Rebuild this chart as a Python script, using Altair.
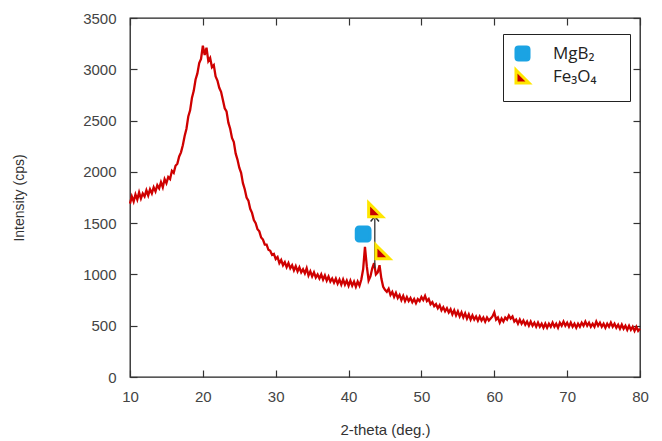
import altair as alt
import pandas as pd

# ---- data ----
THETA_START = 10.0
THETA_STEP = 0.25
intensity = [
    1690, 1760, 1710, 1780,  # 10
    1730, 1800, 1740, 1790,  # 11
    1760, 1820, 1770, 1830,  # 12
    1790, 1850, 1810, 1870,  # 13
    1840, 1900, 1850, 1930,  # 14
    1890, 1950, 1930, 2010,  # 15
    1990, 2060, 2080, 2150,  # 16
    2190, 2260, 2350, 2420,  # 17
    2540, 2600, 2720, 2790,  # 18
    2900, 2960, 3060, 3100,  # 19
    3230, 3140, 3210, 3080,  # 20
    3110, 3020, 3040, 2930,  # 21
    2890, 2820, 2780, 2700,  # 22
    2620, 2590, 2480, 2420,  # 23
    2330, 2290, 2180, 2120,  # 24
    2040, 1990, 1890, 1830,  # 25
    1750, 1720, 1640, 1600,  # 26
    1530, 1500, 1440, 1420,  # 27
    1360, 1340, 1290, 1290,  # 28
    1240, 1230, 1190, 1200,  # 29
    1150, 1170, 1110, 1140,  # 30
    1090, 1120, 1070, 1110,  # 31
    1060, 1090, 1040, 1080,  # 32
    1030, 1070, 1020, 1050,  # 33
    1010, 1060, 990, 1030,   # 34
    980, 1020, 970, 1000,    # 35
    960, 1000, 950, 990,     # 36
    940, 980, 930, 960,      # 37
    920, 960, 910, 950,      # 38
    900, 950, 900, 940,      # 39
    890, 940, 890, 930,      # 40
    880, 930, 890, 950,      # 41
    1050, 1270, 1080, 940,   # 42
    980, 1060, 1110, 1000,   # 43
    1020, 1090, 960, 880,    # 44
    850, 830, 860, 800,      # 45
    830, 780, 820, 770,      # 46
    800, 750, 790, 740,      # 47
    780, 740, 770, 730,      # 48
    760, 720, 760, 740,      # 49
    780, 750, 790, 740,      # 50
    760, 710, 730, 690,      # 51
    710, 670, 700, 650,      # 52
    680, 640, 670, 630,      # 53
    660, 610, 650, 600,      # 54
    640, 590, 630, 580,      # 55
    620, 570, 610, 560,      # 56
    600, 560, 590, 550,      # 57
    590, 550, 580, 540,      # 58
    580, 550, 570, 590,      # 59
    630, 560, 580, 530,      # 60
    570, 540, 580, 560,      # 61
    600, 570, 590, 540,      # 62
    560, 520, 560, 520,      # 63
    550, 510, 540, 500,      # 64
    540, 500, 530, 490,      # 65
    530, 490, 520, 480,      # 66
    520, 480, 520, 490,      # 67
    530, 490, 520, 480,      # 68
    530, 500, 540, 500,      # 69
    530, 490, 530, 490,      # 70
    520, 480, 520, 490,      # 71
    530, 500, 540, 500,      # 72
    530, 490, 520, 490,      # 73
    540, 500, 530, 490,      # 74
    520, 480, 520, 490,      # 75
    530, 490, 520, 480,      # 76
    510, 470, 510, 470,      # 77
    500, 460, 500, 460,      # 78
    490, 450, 490, 450,      # 79
    470,                     # 80
]
theta = [THETA_START + i * THETA_STEP for i in range(len(intensity))]

x_ticks = [10, 20, 30, 40, 50, 60, 70, 80]
y_ticks = [0, 500, 1000, 1500, 2000, 2500, 3000, 3500]

phases = ["MgB₂", "Fe₃O₄"]
marker_phase = ["MgB₂", "Fe₃O₄", "Fe₃O₄"]
marker_theta = [42.0, 43.7, 44.7]
marker_int = [1394, 1630, 1220]

arrow_theta = [43.6]
arrow_low = [1060]
arrow_high = [1545]

# ---- tables ----
df = pd.DataFrame({"theta": theta, "intensity": intensity})
mk = pd.DataFrame({"theta": marker_theta, "intensity": marker_int, "phase": marker_phase})
ar = pd.DataFrame({"theta": arrow_theta, "low": arrow_low, "high": arrow_high})

xscale = alt.Scale(domain=[10, 80], nice=False, zero=False)
yscale = alt.Scale(domain=[0, 3500], nice=False)

common_axis = dict(domain=False, grid=False, tickSize=7, offset=-7, tickColor="#333",
                   tickWidth=1.2, labelFont="Liberation Sans", labelFontSize=15,
                   labelColor="#444", titleFont="Liberation Sans", titleFontWeight="normal",
                   titleColor="#333", format="d")

line = alt.Chart(df).mark_line(color="#cf0000", strokeWidth=2.3).encode(
    x=alt.X("theta:Q", scale=xscale,
            axis=alt.Axis(values=x_ticks, labelPadding=12, title="2-theta (deg.)",
                          titleFontSize=15, titlePadding=18, labelFlush=False, **common_axis)),
    y=alt.Y("intensity:Q", scale=yscale,
            axis=alt.Axis(values=y_ticks, labelPadding=14, title="Intensity (cps)",
                          titleFontSize=14, titlePadding=56, labelFlush=False, **common_axis)),
)

frame_axis = dict(domain=False, grid=False, tickSize=7, offset=-7, tickColor="#333",
                  tickWidth=1.2, labels=False, title=None)

rule = alt.Chart(ar).mark_rule(color="#333", strokeWidth=1.3).encode(
    x=alt.X("theta:Q", scale=xscale, axis=alt.Axis(orient="top", values=x_ticks, **frame_axis)),
    y=alt.Y("low:Q", scale=yscale, axis=alt.Axis(orient="right", values=y_ticks, **frame_axis)),
    y2="high:Q",
)

head = alt.Chart(ar).mark_point(shape="M-1,0.7L0,-0.5L1,0.7", filled=False, color="#333",
                                strokeWidth=1.5, size=70, opacity=1).encode(
    x=alt.X("theta:Q", scale=xscale, axis=None),
    y=alt.Y("high:Q", scale=yscale, axis=None),
)

rounded_square = ("M-1,-0.6A0.4,0.4,0,0,1,-0.6,-1L0.6,-1A0.4,0.4,0,0,1,1,-0.6"
                  "L1,0.6A0.4,0.4,0,0,1,0.6,1L-0.6,1A0.4,0.4,0,0,1,-1,0.6Z")
corner_triangle = "M-1,-1L1,1L-1,1Z"

BLANK = "\u2800"  # blank spacer so the legend box is as wide as in the original
legend = alt.Legend(title=BLANK * 2, titleOrient="right", titleFontSize=12,
                    titleFont="DejaVu Sans", titlePadding=4,
                    orient="none", legendX=373, legendY=16)

markers = alt.Chart(mk).mark_point(opacity=1, strokeWidth=3, size=190).encode(
    x=alt.X("theta:Q", scale=xscale, axis=None),
    y=alt.Y("intensity:Q", scale=yscale, axis=None),
    fill=alt.Fill("phase:N", scale=alt.Scale(domain=phases, range=["#1ba3e3", "#c80000"]),
                  legend=legend),
    stroke=alt.Stroke("phase:N", scale=alt.Scale(domain=phases, range=["#1ba3e3", "#ffe600"]),
                      legend=legend),
    shape=alt.Shape("phase:N", scale=alt.Scale(domain=phases,
                                               range=[rounded_square, corner_triangle]),
                    legend=legend),
)

chart = alt.layer(line, rule, head, markers).resolve_axis(
    x="independent", y="independent"
).properties(
    width=510, height=359,
    autosize=alt.AutoSizeParams(type="none"),
    padding={"left": 122, "top": 10, "right": 12, "bottom": 62},
    background="white",
).configure_view(
    stroke="#222", strokeWidth=1.3
).configure_legend(
    padding=11, strokeColor="#222", fillColor="white", labelFont="Open Sans",
    labelFontSize=17, labelColor="#222", symbolSize=170, symbolStrokeWidth=3,
    rowPadding=-4, labelOffset=22, cornerRadius=0,
)

chart.save("out.html", embed_options={"renderer": "svg", "actions": False})
